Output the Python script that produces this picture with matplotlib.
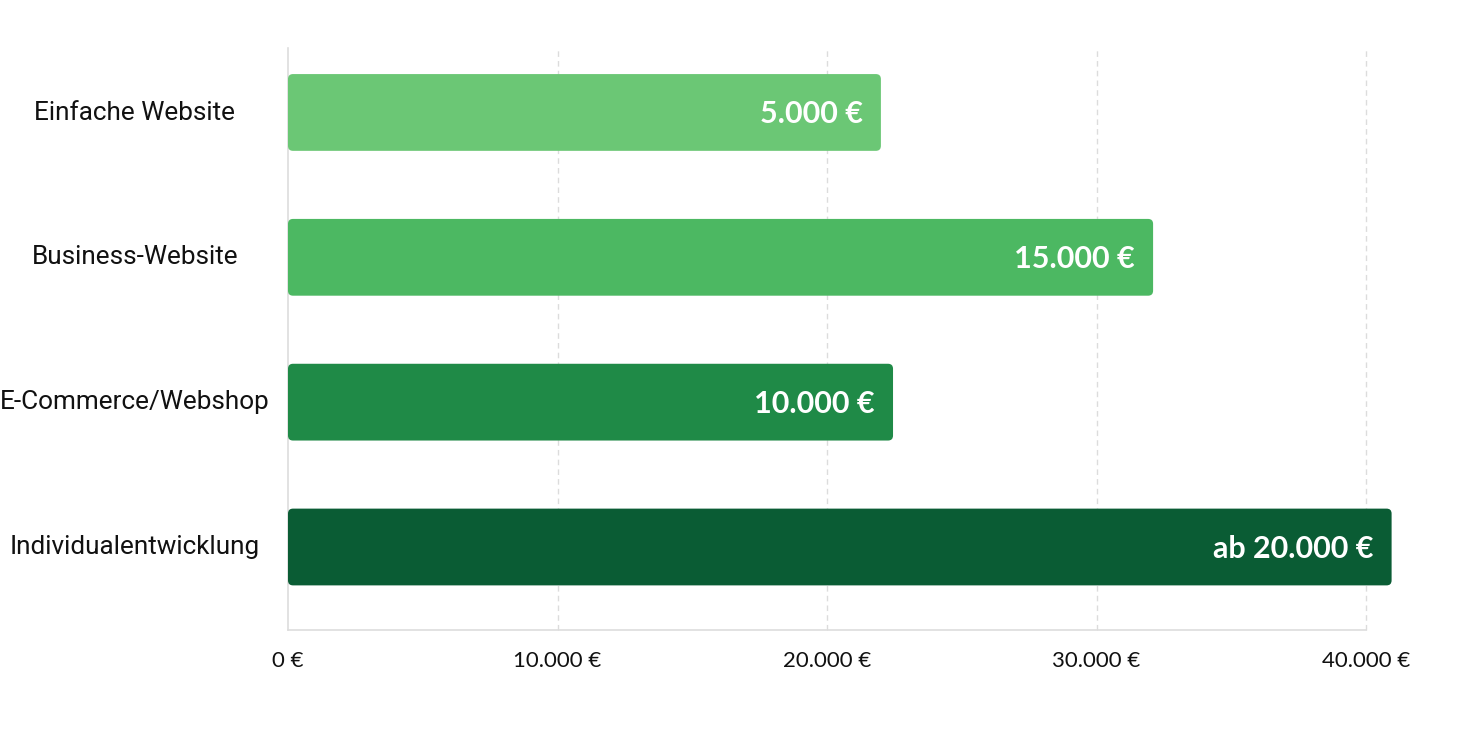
import matplotlib
matplotlib.use("Agg")
import matplotlib.pyplot as plt
from matplotlib.patches import FancyBboxPatch

categories = ["Einfache Website", "Business-Website", "E-Commerce/Webshop", "Individualentwicklung"]
bar_values = [22000, 32100, 22450, 40950]
value_labels = ["5.000 €", "15.000 €", "10.000 €", "ab 20.000 €"]
colors = ["#6BC775", "#4CB862", "#1F8A47", "#0A5C34"]
xticks = [0, 10000, 20000, 30000, 40000]
xtick_labels = ["0 €", "10.000 €", "20.000 €", "30.000 €", "40.000 €"]

W, H = 1479, 749
fig = plt.figure(figsize=(W / 100, H / 100), dpi=100)
ax = fig.add_axes([288 / W, 1 - 630 / H, (1366 - 288) / W, (630 - 48) / H])

ax.set_xlim(0, 40000)
ax.set_ylim(3.573, -0.445)

bar_h = 0.53
px_x = 40000 / (1366 - 288)
px_y = (3.573 + 0.445) / (630 - 48)
r = 5
for i, (v, c) in enumerate(zip(bar_values, colors)):
    p = FancyBboxPatch((0, i - bar_h / 2), v, bar_h,
                       boxstyle=f"round,pad=0,rounding_size={r * px_x}",
                       mutation_aspect=px_y / px_x,
                       facecolor=c, edgecolor="none", clip_on=False, zorder=3)
    ax.add_patch(p)
    ax.text(v - 18 * px_x, i + 2 * px_y, value_labels[i], ha="right", va="center",
            color="white", fontsize=22, fontweight="bold", family="Lato", zorder=4)

for t in xticks[1:]:
    ax.axvline(t, color="#dcdcdc", lw=1, ls=(0, (4, 3)), zorder=1, clip_on=False)

for s in ["top", "right"]:
    ax.spines[s].set_visible(False)
for s in ["left", "bottom"]:
    ax.spines[s].set_color("#dddddd")
    ax.spines[s].set_linewidth(1.2)

ax.set_xticks(xticks)
ax.set_xticklabels(xtick_labels, family="Lato", fontsize=16, color="#111111")
ax.tick_params(axis="x", length=0, pad=15)
ax.set_yticks([])
for i, c in enumerate(categories):
    fig.text(135 / W, 1 - (112.5 + i * 144.8) / H, c, ha="center", va="center",
             fontsize=18.8, family="Roboto", color="#111111")

fig.savefig("out.png", dpi=100, facecolor="white")
